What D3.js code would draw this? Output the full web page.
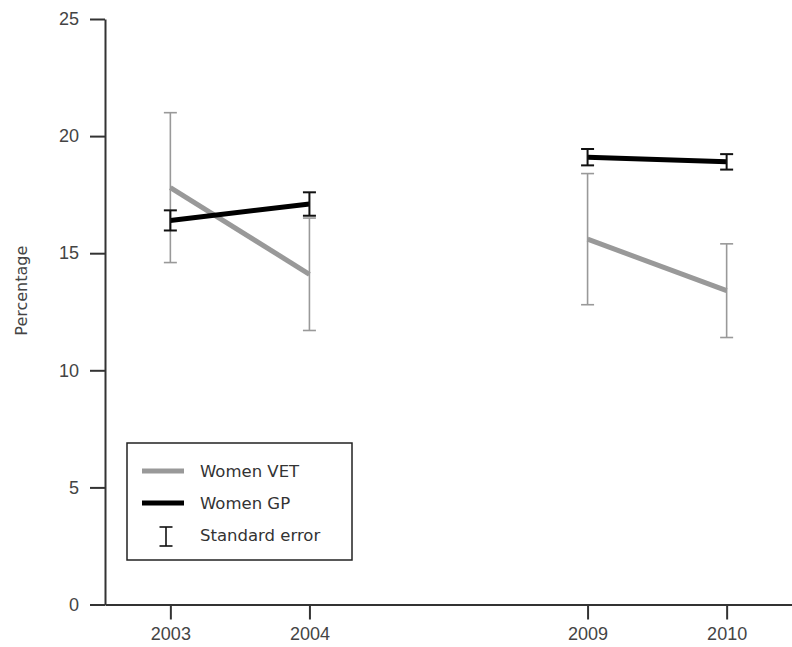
<!DOCTYPE html>
<html>
<head>
<meta charset="utf-8">
<script src="https://cdn.jsdelivr.net/npm/d3@7"></script>
<style>
  body { margin: 0; background: #fff; }
  svg { display: block; font-family: "DejaVu Sans", Verdana, sans-serif; }
</style>
</head>
<body>
<svg id="canvas" width="792" height="647"></svg>
<script>
// categories (a blank slot sits between 2004 and 2009 on the axis)
let slots = ["2003", "2004", "gap", "2009", "2010"]
let years = ["2003", "2004", "2009", "2010"]

// Women VET
let vetValues = [17.8, 14.1, 15.6, 13.4]
let vetErrors = [3.2, 2.4, 2.8, 2.0]

// Women GP
let gpValues = [16.4, 17.1, 19.1, 18.9]
let gpErrors = [0.43, 0.5, 0.35, 0.33]

let yTicks = [0, 5, 10, 15, 20, 25]
let legendLabels = ["Women VET", "Women GP", "Standard error"]

let canvas = d3.select('#canvas')

let x = d3.scalePoint().domain(slots).range([105, 792]).padding(0.47)
let y = d3.scaleLinear().domain([0, 25]).range([604.5, 19])

let ink = "#333"
let grey = "#999"

// axes
let yAxis = canvas.append('g')
  .attr('transform', 'translate(105,0)')
  .call(d3.axisLeft(y).tickValues(yTicks).tickSize(15).tickSizeOuter(0).tickPadding(11))
yAxis.select('.domain').attr('stroke', ink).attr('stroke-width', 2)
yAxis.selectAll('.tick line').attr('stroke', ink).attr('stroke-width', 2)
yAxis.selectAll('.tick text')
  .attr('fill', '#444')
  .style('font-size', '18px')

let xAxis = canvas.append('g')
  .attr('transform', 'translate(0,604.5)')
  .call(d3.axisBottom(x).tickValues(years).tickSize(15).tickSizeOuter(0).tickPadding(8))
xAxis.select('.domain').attr('stroke', ink).attr('stroke-width', 2)
xAxis.selectAll('.tick line').attr('stroke', ink).attr('stroke-width', 2)
xAxis.selectAll('.tick text')
  .attr('fill', '#444')
  .style('font-size', '18px')

canvas.append('text')
  .attr('transform', 'translate(21,' + y(13.4) + ') rotate(-90)')
  .attr('text-anchor', 'middle')
  .attr('dominant-baseline', 'central')
  .attr('fill', '#444')
  .style('font-size', '16px')
  .text('Percentage')

let drawErrors = (values, errors, colour, width) => {
  let g = canvas.append('g').attr('stroke', colour).attr('stroke-width', width)
  values.forEach((v, i) => {
    let cx = x(years[i])
    g.append('line')
      .attr('x1', cx).attr('x2', cx)
      .attr('y1', y(v + errors[i])).attr('y2', y(v - errors[i]))
    g.append('line')
      .attr('x1', cx - 6.5).attr('x2', cx + 6.5)
      .attr('y1', y(v + errors[i])).attr('y2', y(v + errors[i]))
    g.append('line')
      .attr('x1', cx - 6.5).attr('x2', cx + 6.5)
      .attr('y1', y(v - errors[i])).attr('y2', y(v - errors[i]))
  })
}

// each series is drawn in two pieces, broken at the gap
let drawSeries = (values, colour) => {
  ;[[0, 2], [2, 4]].forEach(r => {
    canvas.append('path')
      .datum(values.slice(r[0], r[1]))
      .attr('d', d3.line().x((v, i) => x(years[r[0] + i])).y(v => y(v)))
      .attr('fill', 'none')
      .attr('stroke', colour)
      .attr('stroke-width', 5)
  })
}

drawErrors(vetValues, vetErrors, grey, 1.6)
drawSeries(vetValues, grey)
drawSeries(gpValues, '#000')
drawErrors(gpValues, gpErrors, '#111', 2)

// legend
let legend = canvas.append('g').attr('transform', 'translate(127,443)')
legend.append('rect')
  .attr('width', 225).attr('height', 117)
  .attr('fill', '#fff')
  .attr('stroke', '#222')
  .attr('stroke-width', 1.5)

legend.append('line')
  .attr('x1', 15).attr('x2', 57).attr('y1', 28).attr('y2', 28)
  .attr('stroke', grey).attr('stroke-width', 5)
legend.append('line')
  .attr('x1', 15).attr('x2', 57).attr('y1', 60).attr('y2', 60)
  .attr('stroke', '#000').attr('stroke-width', 5)
let sym = legend.append('g').attr('stroke', '#111').attr('stroke-width', 1.6)
sym.append('line').attr('x1', 39).attr('x2', 39).attr('y1', 84).attr('y2', 103)
sym.append('line').attr('x1', 32.5).attr('x2', 45.5).attr('y1', 84).attr('y2', 84)
sym.append('line').attr('x1', 32.5).attr('x2', 45.5).attr('y1', 103).attr('y2', 103)

legend.selectAll('text.lbl')
  .data(legendLabels)
  .enter()
  .append('text')
  .attr('class', 'lbl')
  .attr('x', 73)
  .attr('y', (d, i) => 28 + i * 32)
  .attr('dominant-baseline', 'central')
  .attr('fill', '#333')
  .style('font-size', '16.5px')
  .text(d => d)
</script>
</body>
</html>
